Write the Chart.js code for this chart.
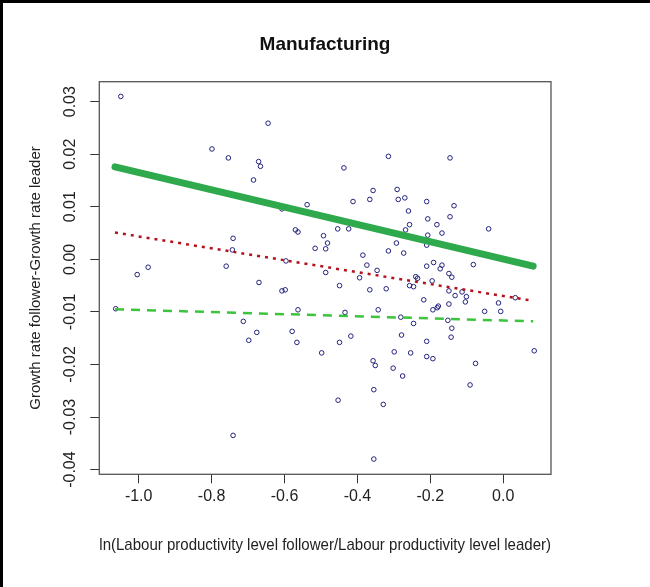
<!DOCTYPE html>
<html>
<head>
<meta charset="utf-8">
<title>Manufacturing</title>
<script src="https://cdn.jsdelivr.net/npm/chart.js@4.4.1/dist/chart.umd.min.js"></script>
<style>
  html, body { margin: 0; padding: 0; background: #fff; }
  #chart { display: block; }
</style>
</head>
<body>
<canvas id="chart" width="650" height="587"></canvas>
<script>
// scatter: ln(productivity follower/leader) vs growth-rate gap
const gapX = [
  -1.049, -0.799, -0.754, -0.645, -0.671, -0.666, -0.685, -0.607, -0.570, -0.563,
  -0.741, -0.743, -0.596, -1.004, -0.974, -0.760, -1.063, -0.670, -0.607, -0.598,
  -0.563, -0.713, -0.676, -0.698, -0.579, -0.566, -0.741, -0.315, -0.146, -0.437,
  -0.357, -0.291, -0.366, -0.288, -0.270, -0.412, -0.210, -0.135, -0.538, -0.260,
  -0.146, -0.207, -0.182, -0.257, -0.268, -0.168, -0.040, -0.454, -0.424, -0.493,
  -0.207, -0.482, -0.293, -0.210, -0.516, -0.487, -0.315, -0.273, -0.385, -0.082,
  -0.374, -0.191, -0.210, -0.168, -0.173, -0.487, -0.346, -0.149, -0.141, -0.394,
  -0.240, -0.235, -0.449, -0.366, -0.321, -0.257, -0.246, -0.195, -0.149, -0.113,
  -0.132, -0.101, -0.104, -0.218, -0.149, -0.178, -0.181, -0.193, -0.013, 0.033,
  -0.051, -0.007, -0.434, -0.343, -0.281, -0.152, -0.246, -0.141, -0.449, -0.418,
  -0.279, -0.143, -0.210, -0.498, -0.299, -0.254, -0.210, -0.193, -0.357, -0.351,
  -0.302, -0.276, -0.076, -0.091, -0.355, -0.329, -0.453, -0.355, 0.085
];
const gapY = [
  0.0310, 0.0210, 0.0193, 0.0259, 0.0186, 0.0177, 0.0151, 0.0096, 0.0056, 0.0052,
  0.0040, 0.0018, -0.0003, -0.0029, -0.0015, -0.0013, -0.0094, -0.0044, -0.0060, -0.0058,
  -0.0096, -0.0118, -0.0139, -0.0154, -0.0137, -0.0158, -0.0335, 0.0196, 0.0193, 0.0174,
  0.0131, 0.0133, 0.0114, 0.0114, 0.0117, 0.0110, 0.0110, 0.0102, 0.0104, 0.0092,
  0.0081, 0.0077, 0.0066, 0.0066, 0.0056, 0.0050, 0.0058, 0.0058, 0.0058, 0.0045,
  0.0046, 0.0031, 0.0031, 0.0027, 0.0021, 0.0020, 0.0016, 0.0012, 0.0008, -0.0010,
  -0.0011, -0.0006, -0.0013, -0.0011, -0.0018, -0.0025, -0.0021, -0.0027, -0.0034, -0.0035,
  -0.0033, -0.0036, -0.0050, -0.0058, -0.0056, -0.0050, -0.0052, -0.0041, -0.0060, -0.0062,
  -0.0069, -0.0071, -0.0081, -0.0077, -0.0085, -0.0089, -0.0092, -0.0096, -0.0083, -0.0073,
  -0.0099, -0.0099, -0.0101, -0.0096, -0.0110, -0.0116, -0.0122, -0.0131, -0.0158, -0.0146,
  -0.0144, -0.0148, -0.0156, -0.0178, -0.0176, -0.0178, -0.0185, -0.0189, -0.0193, -0.0202,
  -0.0207, -0.0222, -0.0198, -0.0239, -0.0248, -0.0276, -0.0268, -0.0380, -0.0174
];

// fitted lines, value at the two ends
const fitX = [-1.065, 0.082];
const fitSolid = [0.0176, -0.0013];
const fitDotted = [0.0051, -0.0079];
const fitDashed = [-0.0095, -0.0118];

const xTicks = [-1.0, -0.8, -0.6, -0.4, -0.2, 0.0];
const yTicks = [-0.04, -0.03, -0.02, -0.01, 0.00, 0.01, 0.02, 0.03];

const FONT = "'Liberation Sans', Arial, sans-serif";

const toPoints = (xs, ys) => xs.map((x, i) => ({ x: x, y: ys[i] }));

const fitLine = (ys, color, width, dash, order) => ({
  type: "line",
  data: toPoints(fitX, ys),
  borderColor: color,
  borderWidth: width,
  borderDash: dash,
  borderCapStyle: dash.length ? "butt" : "round",
  pointRadius: 0,
  showLine: true,
  fill: false,
  order: order,
});

const framePlugin = {
  id: "frame",
  beforeDraw(chart) {
    const ctx = chart.ctx;
    ctx.save();
    ctx.fillStyle = "#fff";
    ctx.fillRect(0, 0, chart.width, chart.height);
    ctx.fillStyle = "#000";
    ctx.fillRect(0, 0, 3, chart.height);
    ctx.fillRect(0, 0, chart.width, 3);
    ctx.restore();
  },
  beforeDatasetsDraw(chart) {
    const { ctx, chartArea: a } = chart;
    ctx.save();
    ctx.strokeStyle = "#555";
    ctx.lineWidth = 1.3;
    ctx.strokeRect(a.left, a.top, a.right - a.left, a.bottom - a.top);
    ctx.restore();
  },
};

const ctx = document.getElementById("chart").getContext("2d");
const chart = new Chart(ctx, {
  type: "scatter",
  data: {
    datasets: [
      {
        data: toPoints(gapX, gapY),
        pointStyle: "circle",
        pointRadius: 2.3,
        pointBorderWidth: 1,
        pointBorderColor: "#23237e",
        pointBackgroundColor: "rgba(0,0,0,0)",
        order: 4,
      },
      fitLine(fitSolid, "#2eaa4c", 7, [], 1),
      fitLine(fitDotted, "#b3121c", 2.5, [3, 5], 2),
      fitLine(fitDashed, "#3cc43c", 2.5, [9, 7], 3),
    ],
  },
  options: {
    responsive: false,
    animation: false,
    layout: { padding: 0 },
    plugins: {
      legend: { display: false },
      tooltip: { enabled: false },
      title: {
        display: true,
        text: "Manufacturing",
        color: "#111",
        font: { family: FONT, size: 19, weight: "bold" },
        padding: { top: 33.6, bottom: 25.3 },
      },
    },
    scales: {
      x: {
        type: "linear",
        min: -1.108,
        max: 0.131,
        afterFit: (s) => (s.height = 112.7),
        afterBuildTicks: (s) => (s.ticks = xTicks.map((v) => ({ value: v }))),
        grid: { display: true, drawOnChartArea: false, drawTicks: true, tickLength: 9, color: "#333" },
        border: { display: false },
        ticks: {
          color: "#222",
          padding: 4,
          maxRotation: 0,
          font: { family: FONT, size: 16 },
          callback: (v) => v.toFixed(1),
        },
        title: {
          display: true,
          text: "ln(Labour productivity level follower/Labour productivity level leader)",
          color: "#222",
          font: { family: FONT, size: 15.7 },
          padding: { top: 0, bottom: 31.6 },
        },
      },
      y: {
        type: "linear",
        position: "left",
        min: -0.0409,
        max: 0.0338,
        afterFit: (s) => (s.width = 99.3),
        afterBuildTicks: (s) => (s.ticks = yTicks.map((v) => ({ value: v }))),
        grid: { display: true, drawOnChartArea: false, drawTicks: true, tickLength: 9, color: "#333" },
        border: { display: false },
        ticks: {
          color: "#222",
          padding: 1,
          minRotation: 90,
          maxRotation: 90,
          crossAlign: "center",
          font: { family: FONT, size: 16 },
          callback: (v) => v.toFixed(2),
        },
        title: {
          display: true,
          text: "Growth rate follower-Growth rate leader",
          color: "#222",
          font: { family: FONT, size: 15 },
          padding: { top: 27, bottom: 0 },
        },
      },
      yRight: {
        type: "linear",
        position: "right",
        afterFit: (s) => (s.width = 99),
        grid: { display: false },
        border: { display: false },
        ticks: { display: false },
      },
    },
  },
  plugins: [framePlugin],
});
</script>
</body>
</html>
